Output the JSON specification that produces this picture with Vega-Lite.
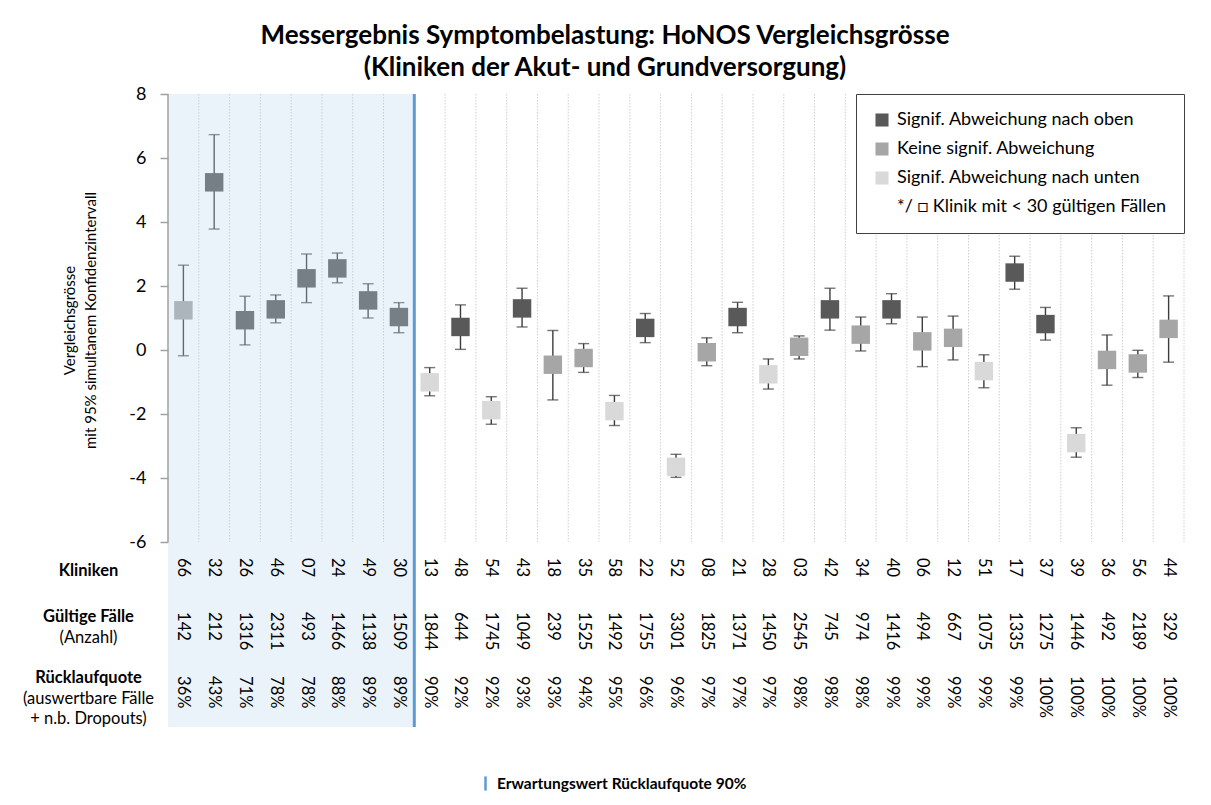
{
  "$schema": "https://vega.github.io/schema/vega-lite/v6.json",
  "width": 1016,
  "height": 633,
  "autosize": {"type": "none"},
  "padding": {"left": 168, "top": 94, "right": 27, "bottom": 78},
  "background": "white",
  "config": {"font": "Lato", "view": {"stroke": null}},
  "title": {
    "text": ["Messergebnis Symptombelastung: HoNOS Vergleichsgrösse", "(Kliniken der Akut- und Grundversorgung)"],
    "font": "Lato", "fontSize": 26, "fontWeight": "bold", "color": "#000000",
    "anchor": "middle", "frame": "group", "dx": -71, "offset": 4, "lineHeight": 32
  },
  "datasets": {
    "kliniken": [
      {"klinik": "66", "wert": 1.24, "lo": -0.18, "hi": 2.65, "faelle": "142", "quote": "36%", "kategorie": "Keine signif. Abweichung"},
      {"klinik": "32", "wert": 5.24, "lo": 3.78, "hi": 6.73, "faelle": "212", "quote": "43%", "kategorie": "Signif. Abweichung nach oben"},
      {"klinik": "26", "wert": 0.93, "lo": 0.16, "hi": 1.68, "faelle": "1316", "quote": "71%", "kategorie": "Signif. Abweichung nach oben"},
      {"klinik": "46", "wert": 1.27, "lo": 0.85, "hi": 1.72, "faelle": "2311", "quote": "78%", "kategorie": "Signif. Abweichung nach oben"},
      {"klinik": "07", "wert": 2.24, "lo": 1.48, "hi": 3.0, "faelle": "493", "quote": "78%", "kategorie": "Signif. Abweichung nach oben"},
      {"klinik": "24", "wert": 2.55, "lo": 2.1, "hi": 3.03, "faelle": "1466", "quote": "88%", "kategorie": "Signif. Abweichung nach oben"},
      {"klinik": "49", "wert": 1.55, "lo": 1.0, "hi": 2.07, "faelle": "1138", "quote": "89%", "kategorie": "Signif. Abweichung nach oben"},
      {"klinik": "30", "wert": 1.03, "lo": 0.54, "hi": 1.48, "faelle": "1509", "quote": "89%", "kategorie": "Signif. Abweichung nach oben"},
      {"klinik": "13", "wert": -1.01, "lo": -1.43, "hi": -0.55, "faelle": "1844", "quote": "90%", "kategorie": "Signif. Abweichung nach unten"},
      {"klinik": "48", "wert": 0.72, "lo": 0.02, "hi": 1.41, "faelle": "644", "quote": "92%", "kategorie": "Signif. Abweichung nach oben"},
      {"klinik": "54", "wert": -1.88, "lo": -2.32, "hi": -1.46, "faelle": "1745", "quote": "92%", "kategorie": "Signif. Abweichung nach unten"},
      {"klinik": "43", "wert": 1.3, "lo": 0.72, "hi": 1.93, "faelle": "1049", "quote": "93%", "kategorie": "Signif. Abweichung nach oben"},
      {"klinik": "18", "wert": -0.46, "lo": -1.56, "hi": 0.61, "faelle": "239", "quote": "93%", "kategorie": "Keine signif. Abweichung"},
      {"klinik": "35", "wert": -0.25, "lo": -0.7, "hi": 0.2, "faelle": "1525", "quote": "94%", "kategorie": "Keine signif. Abweichung"},
      {"klinik": "58", "wert": -1.91, "lo": -2.36, "hi": -1.42, "faelle": "1492", "quote": "95%", "kategorie": "Signif. Abweichung nach unten"},
      {"klinik": "22", "wert": 0.69, "lo": 0.23, "hi": 1.14, "faelle": "1755", "quote": "96%", "kategorie": "Signif. Abweichung nach oben"},
      {"klinik": "52", "wert": -3.65, "lo": -3.98, "hi": -3.26, "faelle": "3301", "quote": "96%", "kategorie": "Signif. Abweichung nach unten"},
      {"klinik": "08", "wert": -0.07, "lo": -0.49, "hi": 0.38, "faelle": "1825", "quote": "97%", "kategorie": "Keine signif. Abweichung"},
      {"klinik": "21", "wert": 1.03, "lo": 0.54, "hi": 1.49, "faelle": "1371", "quote": "97%", "kategorie": "Signif. Abweichung nach oben"},
      {"klinik": "28", "wert": -0.76, "lo": -1.22, "hi": -0.28, "faelle": "1450", "quote": "97%", "kategorie": "Signif. Abweichung nach unten"},
      {"klinik": "03", "wert": 0.1, "lo": -0.28, "hi": 0.44, "faelle": "2545", "quote": "98%", "kategorie": "Keine signif. Abweichung"},
      {"klinik": "42", "wert": 1.27, "lo": 0.62, "hi": 1.93, "faelle": "745", "quote": "98%", "kategorie": "Signif. Abweichung nach oben"},
      {"klinik": "34", "wert": 0.48, "lo": -0.03, "hi": 1.03, "faelle": "974", "quote": "98%", "kategorie": "Keine signif. Abweichung"},
      {"klinik": "40", "wert": 1.27, "lo": 0.82, "hi": 1.76, "faelle": "1416", "quote": "99%", "kategorie": "Signif. Abweichung nach oben"},
      {"klinik": "06", "wert": 0.27, "lo": -0.52, "hi": 1.03, "faelle": "494", "quote": "99%", "kategorie": "Keine signif. Abweichung"},
      {"klinik": "12", "wert": 0.38, "lo": -0.31, "hi": 1.06, "faelle": "667", "quote": "99%", "kategorie": "Keine signif. Abweichung"},
      {"klinik": "51", "wert": -0.66, "lo": -1.18, "hi": -0.15, "faelle": "1075", "quote": "99%", "kategorie": "Signif. Abweichung nach unten"},
      {"klinik": "17", "wert": 2.42, "lo": 1.9, "hi": 2.93, "faelle": "1335", "quote": "99%", "kategorie": "Signif. Abweichung nach oben"},
      {"klinik": "37", "wert": 0.81, "lo": 0.31, "hi": 1.33, "faelle": "1275", "quote": "100%", "kategorie": "Signif. Abweichung nach oben"},
      {"klinik": "39", "wert": -2.91, "lo": -3.35, "hi": -2.43, "faelle": "1446", "quote": "100%", "kategorie": "Signif. Abweichung nach unten"},
      {"klinik": "36", "wert": -0.31, "lo": -1.1, "hi": 0.47, "faelle": "492", "quote": "100%", "kategorie": "Keine signif. Abweichung"},
      {"klinik": "56", "wert": -0.42, "lo": -0.86, "hi": -0.01, "faelle": "2189", "quote": "100%", "kategorie": "Keine signif. Abweichung"},
      {"klinik": "44", "wert": 0.66, "lo": -0.38, "hi": 1.69, "faelle": "329", "quote": "100%", "kategorie": "Keine signif. Abweichung"}
    ],
    "band": [{"von": "66", "bis": "30"}],
    "erwartung": [{"klinik": "30", "bezeichnung": "Erwartungswert Rücklaufquote 90%"}]
  },
  "encoding": {
    "x": {
      "field": "klinik", "type": "nominal", "axis": null,
      "scale": {
        "domain": ["66","32","26","46","07","24","49","30","13","48","54","43","18","35","58","22","52","08","21","28","03","42","34","40","06","12","51","17","37","39","36","56","44"],
        "paddingInner": 0, "paddingOuter": 0
      }
    }
  },
  "layer": [
    {
      "data": {"name": "kliniken"},
      "mark": {"type": "rule", "color": "#cfcfcf", "strokeWidth": 1, "strokeDash": [1.5, 1.5]},
      "encoding": {
        "x": {"field": "klinik", "type": "nominal", "bandPosition": 1},
        "y": {
          "datum": 8, "type": "quantitative",
          "scale": {"domain": [-11.78125, 8], "nice": false, "zero": false},
          "axis": {
            "values": [-6, -4, -2, 0, 2, 4, 6, 8, -6.875, -8.34, -8.97, -10.22, -10.875, -11.5],
            "labelExpr": "datum.value >= -6 ? '' + datum.value : datum.value > -7.5 ? 'Kliniken' : datum.value > -8.6 ? 'Gültige Fälle' : datum.value > -9.5 ? '(Anzahl)' : datum.value > -10.5 ? 'Rücklaufquote' : datum.value > -11.2 ? '(auswertbare Fälle' : '+ n.b. Dropouts)'",
            "domain": false, "grid": false,
            "tickSize": 8, "tickColor": "#a0a0a0", "tickWidth": 1.5,
            "tickOpacity": {"condition": {"test": "datum.value >= -6", "value": 1}, "value": 0},
            "labelFont": "Lato", "labelColor": "#000000",
            "labelFontSize": {"condition": {"test": "datum.value >= -6", "value": 18}, "value": 16.5},
            "labelFontWeight": {"condition": {"test": "indexof([-6.875, -8.34, -10.22], datum.value) >= 0", "value": "bold"}, "value": "normal"},
            "labelAlign": {"condition": {"test": "datum.value >= -6", "value": "right"}, "value": "center"},
            "labelPadding": {"condition": {"test": "datum.value >= -6", "value": 14}, "value": 72},
            "labelBaseline": "middle",
            "labelOverlap": false, "labelBound": false, "labelFlush": false,
            "title": ["Vergleichsgrösse", "mit 95%  simultanem Konfidenzintervall"],
            "titleFont": "Lato", "titleFontSize": 15, "titleFontWeight": "normal", "titleColor": "#000000",
            "titleX": -99, "titleY": 226, "titleAlign": "center", "titleBaseline": "middle", "titleAngle": -90, "titleLineHeight": 21
          }
        },
        "y2": {"datum": -6}
      }
    },
    {
      "data": {"name": "kliniken"},
      "mark": {"type": "rule", "color": "#868686", "strokeWidth": 1.2},
      "encoding": {"y": {"datum": 0, "type": "quantitative"}}
    },
    {
      "data": {"name": "kliniken"},
      "mark": {"type": "rule", "color": "#3c3c3c", "strokeWidth": 1.4},
      "encoding": {
        "y": {"field": "lo", "type": "quantitative"},
        "y2": {"field": "hi"}
      }
    },
    {
      "data": {"name": "kliniken"},
      "mark": {"type": "tick", "color": "#3c3c3c", "size": 11, "thickness": 1.4},
      "encoding": {"y": {"field": "lo", "type": "quantitative"}}
    },
    {
      "data": {"name": "kliniken"},
      "mark": {"type": "tick", "color": "#3c3c3c", "size": 11, "thickness": 1.4},
      "encoding": {"y": {"field": "hi", "type": "quantitative"}}
    },
    {
      "data": {"name": "kliniken"},
      "mark": {"type": "point", "shape": "square", "filled": true, "size": 340, "opacity": 1, "strokeWidth": 0},
      "encoding": {
        "y": {"field": "wert", "type": "quantitative"},
        "fill": {
          "field": "kategorie", "type": "nominal",
          "scale": {
            "domain": ["Signif. Abweichung nach oben", "Keine signif. Abweichung", "Signif. Abweichung nach unten", "*/ □ Klinik mit < 30 gültigen Fällen"],
            "range": ["#595959", "#a6a6a6", "#d9d9d9", "#ffffff"]
          },
          "legend": {
            "title": null, "orient": "top-right", "offset": 0,
            "fillColor": "#ffffff", "strokeColor": "#404040",
            "padding": 17, "rowPadding": 11,
            "symbolType": "square", "symbolSize": 170, "symbolStrokeWidth": 0, "symbolOpacity": 1,
            "labelFont": "Lato", "labelFontSize": 18, "labelColor": "#000000", "labelOffset": 6, "labelLimit": 400
          }
        }
      }
    },
    {
      "data": {"name": "band"},
      "mark": {"type": "rect", "color": "#bdd7ee", "opacity": 0.3},
      "encoding": {
        "x": {"field": "von", "type": "nominal", "bandPosition": 0},
        "x2": {"field": "bis", "bandPosition": 1},
        "y": {"datum": 8, "type": "quantitative"},
        "y2": {"datum": -11.78125}
      }
    },
    {
      "data": {"name": "erwartung"},
      "mark": {"type": "rule", "strokeWidth": 3},
      "encoding": {
        "x": {"field": "klinik", "type": "nominal", "bandPosition": 1},
        "y": {"datum": 8, "type": "quantitative"},
        "y2": {"datum": -11.78125},
        "stroke": {
          "field": "bezeichnung", "type": "nominal",
          "scale": {"range": ["#5b9bd5"]},
          "legend": {
            "title": null, "orient": "none", "legendX": 309, "legendY": 681, "padding": 0,
            "symbolType": "M0,-1L0,1", "symbolSize": 200, "symbolStrokeWidth": 2.5,
            "labelFont": "Lato", "labelFontSize": 15.5, "labelFontWeight": "bold", "labelColor": "#000000", "labelOffset": 3, "labelLimit": 400
          }
        }
      }
    },
    {
      "data": {"name": "band"},
      "mark": {"type": "rule", "color": "#a0a0a0", "strokeWidth": 1.5},
      "encoding": {
        "x": {"field": "von", "type": "nominal", "bandPosition": 0},
        "y": {"datum": 8, "type": "quantitative"},
        "y2": {"datum": -6}
      }
    },
    {
      "data": {"name": "kliniken"},
      "mark": {"type": "text", "angle": 90, "align": "left", "baseline": "middle", "font": "Lato", "fontSize": 16.5, "color": "#000000"},
      "encoding": {
        "y": {"datum": -6.5, "type": "quantitative"},
        "text": {"field": "klinik"}
      }
    },
    {
      "data": {"name": "kliniken"},
      "mark": {"type": "text", "angle": 90, "align": "left", "baseline": "middle", "font": "Lato", "fontSize": 16.5, "color": "#000000"},
      "encoding": {
        "y": {"datum": -8.19, "type": "quantitative"},
        "text": {"field": "faelle"}
      }
    },
    {
      "data": {"name": "kliniken"},
      "mark": {"type": "text", "angle": 90, "align": "left", "baseline": "middle", "font": "Lato", "fontSize": 16.5, "color": "#000000"},
      "encoding": {
        "y": {"datum": -10.19, "type": "quantitative"},
        "text": {"field": "quote"}
      }
    }
  ]
}
